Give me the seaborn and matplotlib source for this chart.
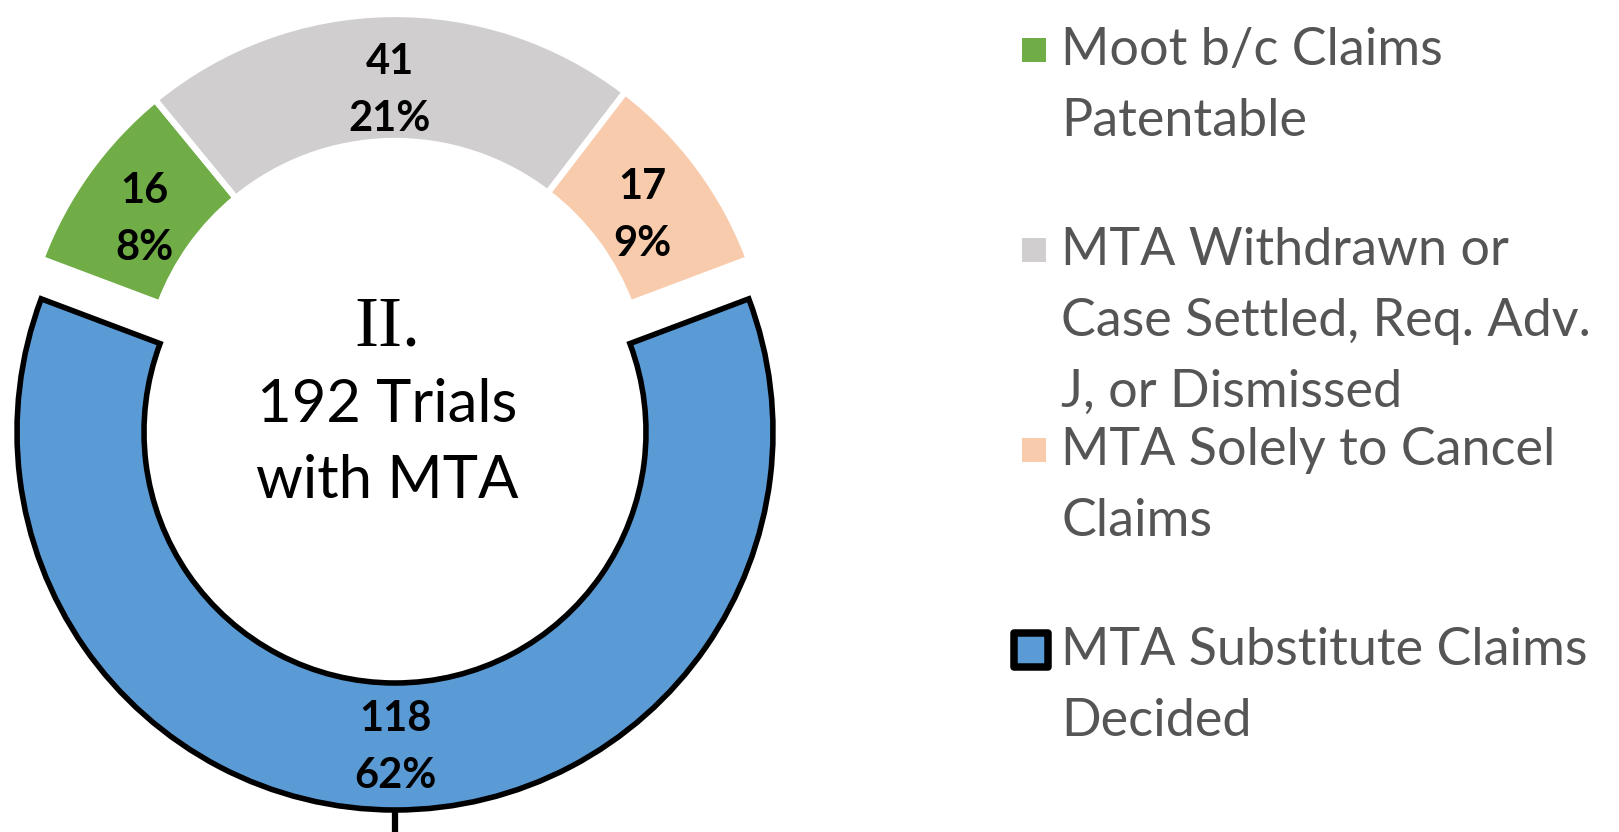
import matplotlib

matplotlib.use("Agg")
import matplotlib.pyplot as plt
import numpy as np
import seaborn as sns

# data
categories = [
    "Moot b/c Claims\nPatentable",
    "MTA Withdrawn or\nCase Settled, Req. Adv.\nJ, or Dismissed",
    "MTA Solely to Cancel\nClaims",
    "MTA Substitute Claims\nDecided",
]
counts = [16, 41, 17, 118]
percents = [8, 21, 9, 62]
center_lines = ["II.", "192 Trials", "with MTA"]
colors = ["#70AD47", "#D0CECE", "#F8CBAD", "#5B9BD5"]

W, H = 1619, 832


def main():
    sns.set_theme(style="white")
    plt.rcParams["font.family"] = ["Lato", "DejaVu Sans"]

    fig = plt.figure(figsize=(W / 100, H / 100), dpi=100, facecolor="w")
    ax = fig.add_axes([0, 0, 1, 1])

    # axes in pixel units, y going up from -H to 0
    cx, cy, radius, ring = 395, -392, 378, 127
    start = 90 + 180 * sum(counts[:-1]) / sum(counts)
    wedges, _ = ax.pie(
        counts,
        colors=colors,
        center=(cx, cy),
        radius=radius,
        startangle=start,
        counterclock=False,
        explode=[0, 0, 0, 40],
        wedgeprops=dict(width=ring, edgecolor="white", linewidth=4.5),
    )
    blue = wedges[-1]
    blue.set_edgecolor("black")
    blue.set_linewidth(4)
    blue.set_zorder(3)

    for w, n, p in zip(wedges, counts, percents):
        mid = np.deg2rad((w.theta1 + w.theta2) / 2)
        rr = w.r - w.width / 2 - 6
        x = w.center[0] + rr * np.cos(mid)
        y = w.center[1] + rr * np.sin(mid) - 7
        ax.text(x, y, f"{n}\n{p}%", ha="center", va="center",
                fontsize=30, fontweight="bold", color="black",
                linespacing=1.6, zorder=5)

    # connector stub below the blue segment
    bx = blue.center[0]
    by = blue.center[1] - blue.r
    ax.plot([bx, bx], [by, -H - 5], color="black", lw=4.5,
            solid_capstyle="butt", zorder=2)

    # center caption
    base = -346
    for i, line in enumerate(center_lines):
        fam = ["Liberation Serif"] if i == 0 else ["Lato"]
        size = 52 if i == 0 else 43
        ax.text(cx - 8, base - 76 * i, line, ha="center", va="baseline",
                fontsize=size, family=fam, color="black")

    # legend, fixed slots like the original
    for k, (lab, col) in enumerate(zip(categories, colors)):
        y0 = -65 - 200 * k
        if k == len(categories) - 1:
            ax.scatter([1031], [y0 + 15], marker="s", s=580, color=col,
                       edgecolor="black", linewidth=5.4, zorder=4)
        else:
            ax.scatter([1034], [y0 + 15], marker="s", s=275, color=col,
                       linewidth=0, zorder=4)
        for j, line in enumerate(lab.split("\n")):
            ax.text(1061, y0 - 71 * j, line, ha="left", va="baseline",
                    fontsize=37.5, color="#555555")

    ax.set_xlim(0, W)
    ax.set_ylim(-H, 0)
    ax.set_aspect("equal")
    ax.axis("off")
    fig.savefig("out.png", dpi=100, facecolor="w")


if __name__ == "__main__":
    main()
